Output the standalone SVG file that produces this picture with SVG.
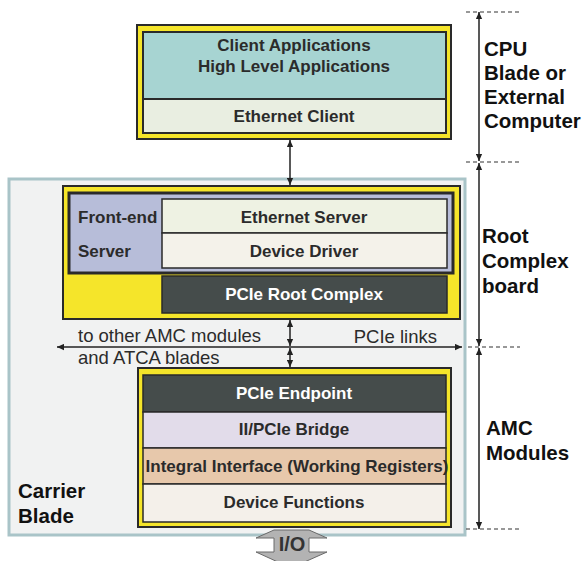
<svg xmlns="http://www.w3.org/2000/svg" width="587" height="561" viewBox="0 0 587 561">
<defs>
<style>
.b{font-family:"Liberation Sans",Arial,sans-serif;font-weight:bold;font-size:17px;fill:#2b2b2b;text-anchor:middle}
.w{fill:#ffffff}
.lbl{font-family:"Liberation Sans",Arial,sans-serif;font-weight:bold;font-size:20.5px;fill:#111}
.n{font-family:"Liberation Sans",Arial,sans-serif;font-size:18.5px;fill:#2b2b2b}
.dk{stroke:#2a2a2a;stroke-width:2}
.thin{stroke:#2a2a2a;stroke-width:1.5}
.ln{stroke:#222;stroke-width:1.5;fill:none}
.dash{stroke:#333;stroke-width:1.2;stroke-dasharray:4,3;fill:none}
</style>
<marker id="ah" viewBox="0 0 10 10" refX="10" refY="5" markerWidth="7" markerHeight="7" markerUnits="userSpaceOnUse" orient="auto-start-reverse">
<path d="M0,0.5 L10,5 L0,9.5 z" fill="#222"/>
</marker>
</defs>
<rect width="587" height="561" fill="#ffffff"/>

<g id="carrier">
<rect x="9" y="179" width="456" height="356" fill="#f1f2f2" stroke="#a9c4c8" stroke-width="3"/>
<text x="18" y="498" class="lbl">Carrier</text>
<text x="18" y="523" class="lbl">Blade</text>
</g>

<g id="io">
<polygon points="274,530 309,530 327,538 309,538 309,552 327,552 291,568 256,552 274,552 274,538 256,538" fill="#b3b3b3" stroke="#6a6a6a" stroke-width="1"/>
<text x="292" y="551" class="b" style="font-size:20px;fill:#333">I/O</text>
</g>

<g id="cpu-blade">
<rect x="137" y="25" width="314" height="114" fill="#f5e52a" class="dk"/>
<rect x="143" y="32" width="303" height="67" fill="#a7d4d2" class="dk"/>
<rect x="143" y="99" width="303" height="34" fill="#e9eee1" class="dk"/>
<text x="294" y="51" class="b">Client Applications</text>
<text x="294" y="72" class="b">High Level Applications</text>
<text x="294" y="122" class="b">Ethernet Client</text>
</g>

<g id="root-complex">
<rect x="63" y="186" width="397" height="133" fill="#f5e52a" class="dk"/>
<rect x="69" y="193" width="384" height="80" fill="#b7bdd9" stroke="#2a2a2a" stroke-width="3"/>
<rect x="162" y="199" width="285" height="34" fill="#eef2e3" class="thin"/>
<rect x="162" y="233" width="285" height="35" fill="#f4f2ea" class="thin"/>
<rect x="162" y="276" width="285" height="37" fill="#454c4b" class="thin"/>
<text x="78" y="223" class="b" style="text-anchor:start">Front-end</text>
<text x="78" y="257" class="b" style="text-anchor:start">Server</text>
<text x="304" y="223" class="b">Ethernet Server</text>
<text x="304" y="257" class="b">Device Driver</text>
<text x="304" y="300" class="b w">PCIe  Root Complex</text>
</g>

<g id="amc">
<rect x="138" y="368" width="313" height="159" fill="#f5e52a" class="dk"/>
<rect x="143" y="375" width="303" height="37" fill="#454c4b" class="thin"/>
<rect x="143" y="412" width="303" height="36" fill="#e2dcea" class="thin"/>
<rect x="143" y="448" width="303" height="36" fill="#e7c8ab" class="thin"/>
<rect x="143" y="484" width="303" height="38" fill="#f4f0ea" class="thin"/>
<text x="294" y="399" class="b w">PCIe Endpoint</text>
<text x="294" y="435" class="b">II/PCIe Bridge</text>
<text x="297" y="472" class="b">Integral Interface (Working Registers)</text>
<text x="294" y="508" class="b">Device Functions</text>
</g>

<g id="connectors">
<line x1="290" y1="140" x2="290" y2="185" class="ln" marker-start="url(#ah)" marker-end="url(#ah)"/>
<line x1="290" y1="320" x2="290" y2="346" class="ln" marker-start="url(#ah)" marker-end="url(#ah)"/>
<line x1="290" y1="348" x2="290" y2="367" class="ln" marker-start="url(#ah)" marker-end="url(#ah)"/>
<line x1="57" y1="347" x2="462" y2="347" class="ln" marker-start="url(#ah)" marker-end="url(#ah)"/>
<text x="78" y="342" class="n">to other AMC modules</text>
<text x="78" y="364" class="n">and ATCA blades</text>
<text x="437" y="343" class="n" style="text-anchor:end">PCIe links</text>
</g>

<g id="scale">
<line x1="466" y1="12" x2="520" y2="12" class="dash"/>
<line x1="466" y1="162" x2="520" y2="162" class="dash"/>
<line x1="468" y1="347" x2="520" y2="347" class="dash"/>
<line x1="466" y1="529" x2="520" y2="529" class="dash"/>
<line x1="479" y1="12" x2="479" y2="161" class="ln" marker-start="url(#ah)" marker-end="url(#ah)"/>
<line x1="479" y1="163" x2="479" y2="346" class="ln" marker-start="url(#ah)" marker-end="url(#ah)"/>
<line x1="479" y1="348" x2="479" y2="529" class="ln" marker-start="url(#ah)" marker-end="url(#ah)"/>
<text x="484" y="56" class="lbl">CPU</text>
<text x="484" y="80" class="lbl">Blade or</text>
<text x="484" y="104" class="lbl">External</text>
<text x="484" y="128" class="lbl">Computer</text>
<text x="482" y="243" class="lbl">Root</text>
<text x="482" y="268" class="lbl">Complex</text>
<text x="482" y="293" class="lbl">board</text>
<text x="486" y="435" class="lbl">AMC</text>
<text x="486" y="460" class="lbl">Modules</text>
</g>
</svg>
